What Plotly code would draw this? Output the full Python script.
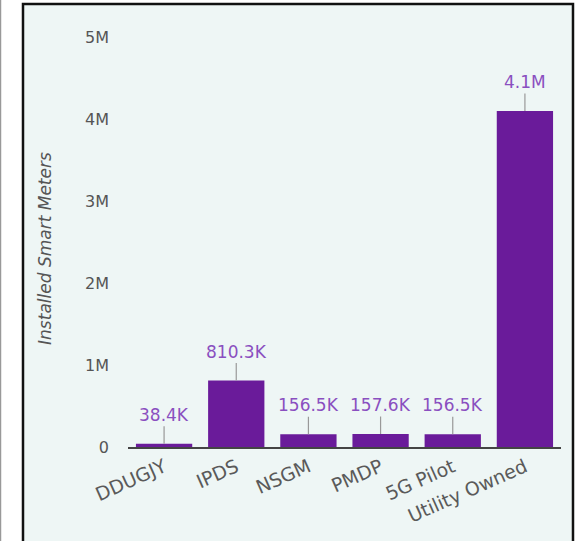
import plotly.graph_objects as go

# Installed smart meters by programme
programmes = ["DDUGJY", "IPDS", "NSGM", "PMDP", "5G Pilot", "Utility Owned"]
installed = [38_400, 810_300, 156_500, 157_600, 156_500, 4_100_000]
y_tick_vals = [0, 1_000_000, 2_000_000, 3_000_000, 4_000_000, 5_000_000]
y_tick_text = ["0", "1M", "2M", "3M", "4M", "5M"]

BAR = "#6a1b9a"
LABEL = "#8a4fc0"
TEXT = "#555555"
FONT = "DejaVu Sans"


def short(v):
    if v >= 1_000_000:
        return f"{v / 1_000_000:.1f}M"
    return f"{v / 1_000:.1f}K"


fig = go.Figure(
    go.Bar(
        x=programmes,
        y=installed,
        marker=dict(color=BAR, line=dict(width=0)),
        hoverinfo="skip",
    )
)

# value labels joined to the bar tops by a short leader line
for name, v in zip(programmes, installed):
    fig.add_annotation(
        x=name, y=v, xref="x", yref="y",
        text=short(v),
        showarrow=True, arrowhead=0, arrowwidth=1.2, arrowcolor="#999999",
        ax=0, ay=-29, standoff=0,
        font=dict(family=FONT, size=17, color=LABEL),
    )

# vertical axis title, placed slightly below the plot-area centre
fig.add_annotation(
    x=-0.192, y=0.467, xref="paper", yref="paper",
    text="<i>Installed Smart Meters</i>", textangle=-90,
    showarrow=False, xanchor="center", yanchor="middle",
    font=dict(family=FONT, size=17, color=TEXT),
)

# framed panel behind the chart
fig.add_shape(
    type="rect", xref="paper", yref="paper",
    x0=-0.2425, x1=1.0277, y0=-0.25, y1=1.04,
    fillcolor="#eef6f5", line=dict(color="#111111", width=2.5),
    layer="below",
)
fig.add_shape(
    type="line", xref="paper", yref="paper",
    x0=-0.2945, x1=-0.2945, y0=-0.25, y1=1.1,
    line=dict(color="#999999", width=1.5), layer="below",
)

fig.update_layout(
    width=580, height=541,
    margin=dict(l=128, r=19, t=21, b=94),
    paper_bgcolor="white",
    plot_bgcolor="rgba(0,0,0,0)",
    bargap=0.22,
    showlegend=False,
    font=dict(family=FONT, color=TEXT),
    xaxis=dict(
        showgrid=False, zeroline=False,
        showline=True, linecolor="#444444", linewidth=1.8,
        tickangle=-24, tickfont=dict(family=FONT, size=19, color="#5a5a5a"),
        ticks="", fixedrange=True,
    ),
    yaxis=dict(
        range=[0, 5_200_000],
        tickvals=y_tick_vals, ticktext=y_tick_text,
        showgrid=False, zeroline=False, showline=False,
        tickfont=dict(family=FONT, size=16, color=TEXT),
        ticks="", ticklabelstandoff=18,
        fixedrange=True,
    ),
)

fig.write_html("out.html")
